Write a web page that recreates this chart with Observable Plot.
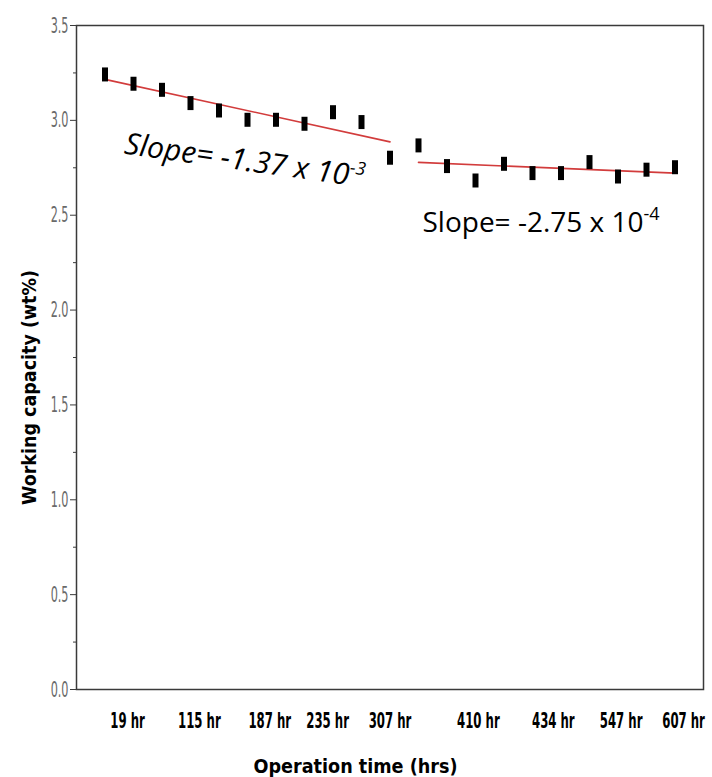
<!DOCTYPE html>
<html><head><meta charset="utf-8">
<script src="https://cdn.jsdelivr.net/npm/d3@7"></script>
<script src="https://cdn.jsdelivr.net/npm/@observablehq/plot@0.6"></script>
<style>
body{margin:0;background:#fff;}
#chart svg{display:block;}
</style></head><body><div id="chart"></div>
<script>
// Working capacity (wt%) readings, in measurement order
const run1 = [3.242, 3.193, 3.161, 3.091, 3.052, 3.003, 3.003, 2.982, 3.043, 2.991, 2.803];
const run2 = [2.868, 2.759, 2.683, 2.771, 2.722, 2.722, 2.780, 2.704, 2.740, 2.753];
// x tick labels and where they sit on the measurement-index axis
const tickPos = [0.79, 3.31, 5.78, 7.81, 10.0, 13.1, 15.73, 18.11, 20.3];
const tickLabels = ["19 hr", "115 hr", "187 hr", "235 hr", "307 hr", "410 hr", "434 hr", "547 hr", "607 hr"];
const yTicks = [0, 0.5, 1.0, 1.5, 2.0, 2.5, 3.0, 3.5];
const yMinor = [0.25, 0.75, 1.25, 1.75, 2.25, 2.75, 3.25];
// slope annotations
const slopeText = ["Slope= -1.37 x 10", "Slope= -2.75 x 10"];
const slopeExp = ["-3", "-4"];
const slopeX = [0.65, 11.14];
const slopeY = [2.825, 2.41];
const yTitle = "Working capacity (wt%)";
const xTitle = "Operation time (hrs)";

const points = [
  ...run1.map((v, i) => ({i, v, seg: "A"})),
  ...run2.map((v, k) => ({i: run1.length + k, v, seg: "B"}))
];
const labelOf = new Map(tickPos.map((p, k) => [p, tickLabels[k]]));
const notes = slopeText.map((t, k) => ({t, exp: slopeExp[k], x: slopeX[k], y: slopeY[k]}));

const barSymbol = {draw(ctx) {
  ctx.moveTo(-3, -7); ctx.lineTo(3, -7); ctx.lineTo(3, 7); ctx.lineTo(-3, 7); ctx.closePath();
}};

const chart = Plot.plot({
  width: 712, height: 777,
  marginLeft: 76, marginRight: 9, marginTop: 25, marginBottom: 88,
  x: {domain: [-1, 21]},
  y: {domain: [0, 3.5]},
  style: {fontFamily: "DejaVu Sans", background: "white", color: "black"},
  marks: [
    Plot.frame({stroke: "#3a3a3a", strokeWidth: 1.5}),
    Plot.axisY({ticks: yTicks, tickSize: 6, tickPadding: 2, tickFormat: d3.format(".1f"), fontSize: 22, label: null}),
    Plot.axisY({ticks: yMinor, tickSize: 3, tickFormat: () => "", label: null}),
    Plot.axisX({ticks: tickPos, tickSize: 0, tickPadding: 24, tickFormat: d => labelOf.get(d), fontSize: 21, fontWeight: "bold", fontFamily: "DejaVu Sans Condensed, DejaVu Sans", label: null}),
    Plot.linearRegressionY(points, {x: "i", y: "v", z: "seg", ci: 0, stroke: "#d23c3c", strokeWidth: 1.6}),
    Plot.dot(points, {x: "i", y: "v", symbol: barSymbol, fill: "black", stroke: "none"}),
    Plot.text([notes[0]], {x: "x", y: "y", text: "t", rotate: 8, textAnchor: "start", lineAnchor: "bottom", fontSize: 30, fontStyle: "italic", fontFamily: "Open Sans", fill: "black"}),
    Plot.text([notes[1]], {x: "x", y: "y", text: "t", textAnchor: "start", lineAnchor: "bottom", fontSize: 28, fontFamily: "Open Sans", fill: "black"}),
    Plot.text([yTitle], {frameAnchor: "left", dx: -47, dy: 30, rotate: -90, fontWeight: "bold", fontSize: 20, textAnchor: "middle", lineAnchor: "middle", fill: "black"}),
    Plot.text([xTitle], {frameAnchor: "bottom", dx: -34.5, dy: 77, fontWeight: "bold", fontSize: 20, textAnchor: "middle", lineAnchor: "middle", fill: "black"})
  ]
});
document.getElementById("chart").append(chart);

const svg = d3.select(chart);
function squeeze(el, ratio, target) {
  const L = el.getComputedTextLength();
  if (!L) return;
  el.setAttribute("textLength", target != null ? target : L * ratio);
  el.setAttribute("lengthAdjust", "spacingAndGlyphs");
}
svg.selectAll('g[aria-label="y-axis tick label"] text').attr("fill", "#6a6a6a");
svg.selectAll('g[aria-label="y-axis tick"]').attr("stroke", "#3a3a3a");
svg.selectAll('g[aria-label="y-axis tick label"] text').each(function() { squeeze(this, 0.51); });
svg.selectAll('g[aria-label="x-axis tick label"] text').each(function() { squeeze(this, 0.62); });
svg.selectAll("text").each(function() {
  const s = this.textContent;
  if (s === yTitle) squeeze(this, null, 235);
  else if (s === xTitle) squeeze(this, null, 204);
  else {
    const n = notes.find(o => o.t === s);
    if (n) d3.select(this).append("tspan").attr("font-size", 18).attr("dy", -12).text(n.exp);
  }
});
</script></body></html>
